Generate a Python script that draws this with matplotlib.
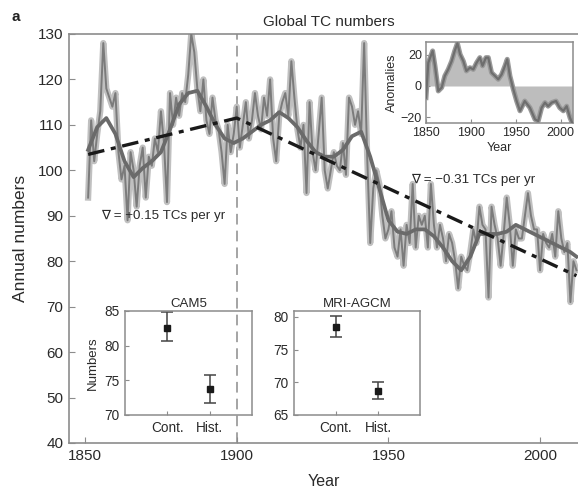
import numpy as np
import matplotlib
matplotlib.use('Agg')
import matplotlib.pyplot as plt

plt.rcParams['font.family'] = ['Liberation Sans', 'DejaVu Sans']

# annual global TC numbers, 1851-2012
years = np.arange(1851, 2013)
annual = [94, 111, 102, 108, 113, 128, 118, 116, 114, 117,
          104, 98, 101, 89, 104, 100, 92, 101, 105, 94,
          103, 101, 107, 104, 113, 106, 93, 117, 110, 116,
          112, 117, 115, 121, 130, 126, 118, 113, 120, 111,
          108, 116, 111, 109, 104, 97, 110, 104, 108, 114,
          105, 110, 115, 107, 111, 117, 112, 109, 116, 112,
          120, 107, 102, 112, 115, 117, 112, 124, 116, 109,
          105, 110, 95, 115, 104, 100, 108, 116, 100, 96,
          100, 104, 101, 100, 106, 99, 116, 114, 110, 113,
          108, 128, 103, 84, 96, 100, 97, 90, 85, 87,
          91, 83, 81, 87, 79, 88, 84, 97, 83, 90,
          88, 90, 83, 97, 88, 83, 88, 85, 80, 86,
          84, 80, 74, 81, 79, 78, 82, 87, 84, 92,
          88, 87, 72, 92, 88, 85, 79, 86, 94, 88,
          79, 87, 85, 85, 90, 95, 90, 87, 87, 78,
          86, 84, 83, 86, 81, 91, 85, 82, 84, 71,
          80, 78]

# smoothed curve
smooth_years = [1851, 1854, 1857, 1860, 1863, 1866, 1869, 1872, 1875, 1878,
                1881, 1884, 1887, 1890, 1893, 1896, 1899, 1902, 1905, 1908,
                1911, 1914, 1917, 1920, 1923, 1926, 1929, 1932, 1935, 1938,
                1941, 1944, 1947, 1950, 1953, 1956, 1959, 1962, 1965, 1968,
                1971, 1974, 1977, 1980, 1983, 1986, 1989, 1992, 1995, 1998,
                2001, 2004, 2007, 2010, 2012]
smooth_vals = [104.5, 109.5, 111.5, 108, 102, 98.5, 100.5, 102, 104, 109,
               114.5, 117, 117.5, 114, 110, 107, 106, 107, 108.5, 110,
               111, 112.8, 111.5, 109.5, 106.5, 104, 103, 103, 104.5, 107.5,
               108.5, 103, 96, 89, 86.5, 86, 87, 87, 85.5, 83,
               80, 78, 81, 86, 86, 86, 86.5, 88, 87, 86,
               85, 84, 83, 82, 81]

# piecewise linear trends
trend_years = [1851, 1900, 2012]
trend_vals = [103.5, 111.5, 76.8]

# anomaly inset
anom_years = [1850, 1852.6, 1857.4, 1860, 1863.7, 1867.5, 1871, 1874.8, 1878.6, 1882,
              1885, 1888, 1891.6, 1895, 1899, 1902.7, 1906.4, 1910, 1913, 1916.8,
              1919.4, 1923, 1926.8, 1930.5, 1934.3, 1938, 1940.5, 1943.5, 1947.2, 1951,
              1954.7, 1960, 1965.8, 1971.4, 1975, 1978.8, 1982.5, 1986, 1990, 1994.8,
              1999, 2003, 2006.7, 2010.4, 2013]
anom_vals = [-7.5, 15, 22.6, 13, -3.2, -1, 6.5, 10.7, 16, 22.6,
             27.5, 20.4, 16, 9.7, 11.8, 10.7, 15, 18.3, 13, 18.3,
             18.3, 8.6, 6.5, 4.3, 7.5, 13, 17.2, 6.5, -2, -9.7,
             -16, -9.7, -14, -21.5, -22.6, -14, -10.7, -13, -10.7, -9.7,
             -14, -16, -13, -20.4, -24]

# model experiments
exp_labels = ['Cont.', 'Hist.']
cam5_mean = [82.5, 73.7]
cam5_lo = [80.7, 71.8]
cam5_hi = [84.8, 75.8]
mri_mean = [78.5, 68.7]
mri_lo = [77.0, 67.4]
mri_hi = [80.2, 70.1]

spine_col = '#8c8c8c'
text_col = '#2a2a2a'
line_col = '#7b7b7b'
halo_col = '#c0c0c0'

fig = plt.figure(figsize=(5.78, 4.91), dpi=100)

ax = fig.add_axes([0.1194, 0.0978, 0.8806, 0.833])
ax.plot(years, annual, color=halo_col, lw=4.5, solid_joinstyle='round', zorder=2)
ax.plot(years, annual, color=line_col, lw=1.4, zorder=3)
ax.plot(smooth_years, smooth_vals, color='#6a6a6a', lw=2.7, zorder=4)
ax.plot(trend_years, trend_vals, color='#1a1a1a', lw=2.4, ls=(0, (5, 2, 1.5, 2)), zorder=5)
ax.axvline(1900, color='#8c8c8c', lw=1.1, ls=(0, (7, 4)), zorder=1)

ax.set_xlim(1844.7, 2012.5)
ax.set_ylim(40, 130)
ax.set_xticks([1850, 1900, 1950, 2000])
ax.set_yticks(range(40, 131, 10))
for s in ['left', 'bottom', 'top']:
    ax.spines[s].set_color(spine_col)
    ax.spines[s].set_linewidth(1.2)
ax.spines['right'].set_visible(False)
ax.tick_params(direction='in', length=4, color=spine_col, labelsize=11,
               labelcolor=text_col, pad=4)
ax.set_xlabel('Year', fontsize=11.5, color=text_col, labelpad=8)
ax.set_ylabel('Annual numbers', fontsize=12.5, color=text_col, labelpad=7)
ax.set_title('Global TC numbers', fontsize=11, color=text_col, pad=6,
             x=0.51)

ax.text(1855.3, 90, '\u2207 = +0.15 TCs per yr', fontsize=9.6, color=text_col,
        va='center', ha='left', zorder=6)
ax.text(1957.6, 97.9, '\u2207 = \u22120.31 TCs per yr', fontsize=9.6, color=text_col,
        va='center', ha='left', zorder=6)
fig.text(0.02, 0.965, 'a', fontsize=11, fontweight='bold', color='#222222',
         va='center', ha='left')

# anomaly inset
ai = fig.add_axes([0.737, 0.749, 0.2538, 0.1656])
ai.fill_between(anom_years, 0, anom_vals, color='#bdbdbd', lw=0, zorder=1)
ai.plot(anom_years, anom_vals, color='#9a9a9a', lw=3.6, zorder=2)
ai.plot(anom_years, anom_vals, color='#6e6e6e', lw=1.6, zorder=3)
ai.set_xlim(1850, 2013.4)
ai.set_ylim(-24, 28.4)
ai.set_xticks([1850, 1900, 1950, 2000])
ai.set_yticks([-20, 0, 20])
ai.set_yticklabels(['\u221220', '0', '20'])
for s in ai.spines.values():
    s.set_color(spine_col)
    s.set_linewidth(1.1)
ai.tick_params(direction='in', length=3, color=spine_col, labelsize=9,
               labelcolor=text_col, pad=3)
ai.set_xlabel('Year', fontsize=9, color=text_col, labelpad=2)
ai.set_ylabel('Anomalies', fontsize=9, color=text_col, labelpad=2)


def model_panel(rect, name, mean, lo, hi, ylim, yticks, ylabel=None):
    axi = fig.add_axes(rect)
    axi.patch.set_alpha(0)
    x = [1, 2]
    err = [np.subtract(mean, lo), np.subtract(hi, mean)]
    axi.errorbar(x, mean, yerr=err, fmt='s', color='#1a1a1a', ms=5,
                 ecolor='#444444', elinewidth=1.1, capsize=4, capthick=1.1)
    axi.set_xlim(0, 3)
    axi.set_ylim(*ylim)
    axi.set_xticks(x)
    axi.set_xticklabels(exp_labels)
    axi.set_yticks(yticks)
    for s in axi.spines.values():
        s.set_color(spine_col)
        s.set_linewidth(1.1)
    axi.tick_params(direction='in', length=3, color=spine_col, labelsize=9.8,
                    labelcolor=text_col, pad=4)
    axi.set_title(name, fontsize=9.5, color=text_col, pad=3)
    if ylabel:
        axi.set_ylabel(ylabel, fontsize=9.5, color=text_col, labelpad=4)
    return axi


model_panel([0.2163, 0.1548, 0.2197, 0.2118], 'CAM5', cam5_mean, cam5_lo, cam5_hi,
            (70, 85), [70, 75, 80, 85], ylabel='Numbers')
model_panel([0.5087, 0.1548, 0.218, 0.2118], 'MRI-AGCM', mri_mean, mri_lo, mri_hi,
            (65, 80.9), [65, 70, 75, 80])

fig.savefig('out.png', dpi=100)
